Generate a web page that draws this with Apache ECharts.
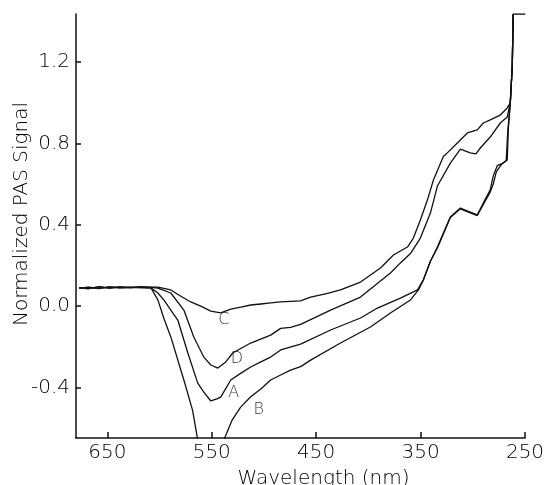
<!DOCTYPE html>
<html>
<head>
<meta charset="utf-8">
<script src="https://cdn.jsdelivr.net/npm/echarts@6/dist/echarts.min.js"></script>
<style>html,body{margin:0;padding:0;background:#fff;}#c{width:551px;height:485px;}</style>
</head>
<body>
<div id="c"></div>
<script>
// Curve C
var cWl  = [677, 668, 658, 648, 638, 628, 618, 608, 601.6, 589.2, 580, 570.1, 560, 550.9, 541.4, 531.8, 522, 512.7, 503, 493.6, 484, 465, 455.3, 440, 426.7, 407.5, 388.4, 376, 362.6, 356.9, 350.2, 343.5, 337.7, 328.2, 324.4, 314.8, 305.2, 295.7, 289.9, 283.3, 273.7, 267, 264.1, 262.2, 261.3, 249.8];
var cVal = [0.09, 0.085, 0.095, 0.088, 0.092, 0.09, 0.095, 0.093, 0.093, 0.079, 0.049, 0.02, -0.002, -0.025, -0.034, -0.015, -0.005, 0.005, 0.01, 0.015, 0.02, 0.025, 0.044, 0.061, 0.079, 0.118, 0.187, 0.251, 0.29, 0.334, 0.423, 0.521, 0.62, 0.735, 0.753, 0.802, 0.851, 0.866, 0.9, 0.915, 0.939, 0.974, 0.999, 1.18, 1.436, 1.436];
// Curve D
var dWl  = [677, 668, 658, 648, 638, 628, 618, 608, 601.6, 589.2, 576.7, 567.2, 557.6, 550.9, 544.2, 536.6, 529.9, 512.7, 493.6, 484, 474.5, 464.9, 436.2, 407.5, 378.9, 369.3, 359.7, 350.2, 340.6, 333.9, 321.5, 311.9, 302.4, 297, 292.8, 283.3, 273.7, 267, 264.1, 262.2, 261.3];
var dVal = [0.088, 0.093, 0.087, 0.094, 0.089, 0.093, 0.09, 0.092, 0.088, 0.064, -0.02, -0.152, -0.251, -0.29, -0.305, -0.275, -0.231, -0.182, -0.143, -0.11, -0.105, -0.09, -0.02, 0.044, 0.162, 0.212, 0.258, 0.334, 0.457, 0.59, 0.703, 0.772, 0.753, 0.748, 0.777, 0.831, 0.9, 0.93, 0.999, 1.18, 1.436];
// Curve A
var aWl  = [677, 668, 658, 648, 638, 628, 618, 608, 601.6, 595.9, 589.2, 582.5, 572.9, 563.4, 557.6, 550.9, 545, 541.4, 531.8, 522, 512.7, 503, 493.6, 484, 464.9, 436.2, 407.5, 391.3, 369.3, 353, 347.3, 340.6, 333.9, 321.5, 311.9, 302.4, 295.7, 289.9, 283.3, 280.4, 276.6, 270.8, 267, 266, 264.1, 262.2, 261.3];
var aVal = [0.088, 0.092, 0.086, 0.094, 0.09, 0.092, 0.09, 0.088, 0.064, 0.03, -0.02, -0.069, -0.231, -0.379, -0.423, -0.467, -0.457, -0.448, -0.364, -0.33, -0.3, -0.275, -0.251, -0.216, -0.187, -0.118, -0.059, -0.01, 0.039, 0.079, 0.13, 0.22, 0.29, 0.438, 0.482, 0.462, 0.448, 0.507, 0.571, 0.64, 0.69, 0.703, 0.718, 0.866, 0.999, 1.18, 1.436];
// Curve B
var bWl  = [677, 668, 658, 648, 638, 628, 618, 608.3, 601.6, 595.9, 589.2, 576.7, 568.4, 563.4, 560, 539.5, 537.6, 530.5, 522.3, 512.7, 503, 493.6, 484, 474.5, 464.9, 455.3, 426.7, 398, 378.9, 359.7, 352, 347.3, 340.6, 333.9, 321.5, 311.9, 302.4, 295.7, 289.9, 283.3, 280.4, 277.5, 272, 268, 266.5, 264.1, 262.2, 261.3];
var bVal = [0.09, 0.086, 0.094, 0.088, 0.095, 0.09, 0.093, 0.09, 0.03, -0.06, -0.152, -0.364, -0.512, -0.659, -0.8, -0.8, -0.649, -0.561, -0.497, -0.446, -0.408, -0.364, -0.339, -0.315, -0.298, -0.266, -0.182, -0.103, -0.034, 0.03, 0.079, 0.128, 0.22, 0.285, 0.435, 0.478, 0.458, 0.445, 0.5, 0.56, 0.6, 0.66, 0.7, 0.715, 0.86, 0.999, 1.18, 1.436];
// Curve labels
var labelNames = ['C', 'D', 'A', 'B'];
var labelWl    = [538.5, 526, 529, 505];
var labelVal   = [-0.069, -0.261, -0.428, -0.512];
// Axes
var xTicks = [650, 550, 450, 350, 250];
var yTicks = [-0.4, 0.0, 0.4, 0.8, 1.2];
var xMin = 250, xMax = 680, yMin = -0.649, yMax = 1.436;

function zip(w, v) { return w.map(function (x, i) { return [x, v[i]]; }); }
var FONT = 'DejaVu Sans';
var lineStyle = { color: '#111', width: 1.3 };
function curve(name, w, v) {
  return { name: name, type: 'line', data: zip(w, v), showSymbol: false, symbol: 'none',
    lineStyle: lineStyle, clip: true, animation: false, silent: true };
}
var chart = echarts.init(document.getElementById('c'), null, { renderer: 'canvas' });
chart.setOption({
  backgroundColor: '#fff',
  animation: false,
  grid: { left: 76, right: 26, top: 14, bottom: 47, containLabel: false, outerBoundsMode: 'none' },
  xAxis: {
    type: 'value', inverse: true, min: xMin, max: xMax,
    name: 'Wavelength (nm)', nameLocation: 'middle', nameGap: 31, nameMoveOverlap: false,
    nameTextStyle: { fontFamily: FONT, fontSize: 20, fontWeight: 200, color: '#000', padding: [0, 0, 0, 46] },
    axisLine: { show: true, onZero: false, lineStyle: { color: '#111', width: 1.5 } },
    axisTick: { show: true, inside: true, length: 6, customValues: xTicks, lineStyle: { color: '#111', width: 1.5 } },
    axisLabel: { customValues: xTicks, fontFamily: FONT, fontSize: 20, fontWeight: 200, color: '#000', margin: 5 },
    splitLine: { show: false }
  },
  yAxis: {
    type: 'value', min: yMin, max: yMax,
    name: 'Normalized PAS Signal', nameLocation: 'middle', nameGap: 44, nameRotate: 90, nameMoveOverlap: false,
    nameTextStyle: { fontFamily: FONT, fontSize: 20, fontWeight: 200, color: '#000', padding: [0, 0, 0, 24] },
    axisLine: { show: true, onZero: false, lineStyle: { color: '#111', width: 1.5 } },
    axisTick: { show: true, inside: true, length: 5, customValues: yTicks, lineStyle: { color: '#111', width: 1.5 } },
    axisLabel: { customValues: yTicks, fontFamily: FONT, fontSize: 20, fontWeight: 200, color: '#000', margin: 6,
      formatter: function (v) { return (Math.abs(v) < 1e-9 ? 0 : v).toFixed(1); } },
    splitLine: { show: false }
  },
  series: [
    curve('C', cWl, cVal),
    curve('D', dWl, dVal),
    curve('A', aWl, aVal),
    curve('B', bWl, bVal),
    { type: 'scatter', symbolSize: 0, silent: true,
      data: labelNames.map(function (n, i) { return [labelWl[i], labelVal[i], n]; }),
      label: { show: true, position: 'inside', fontFamily: FONT, fontSize: 16, fontWeight: 200, color: '#000',
        formatter: function (p) { return p.data[2]; } } }
  ]
});
</script>
</body>
</html>
